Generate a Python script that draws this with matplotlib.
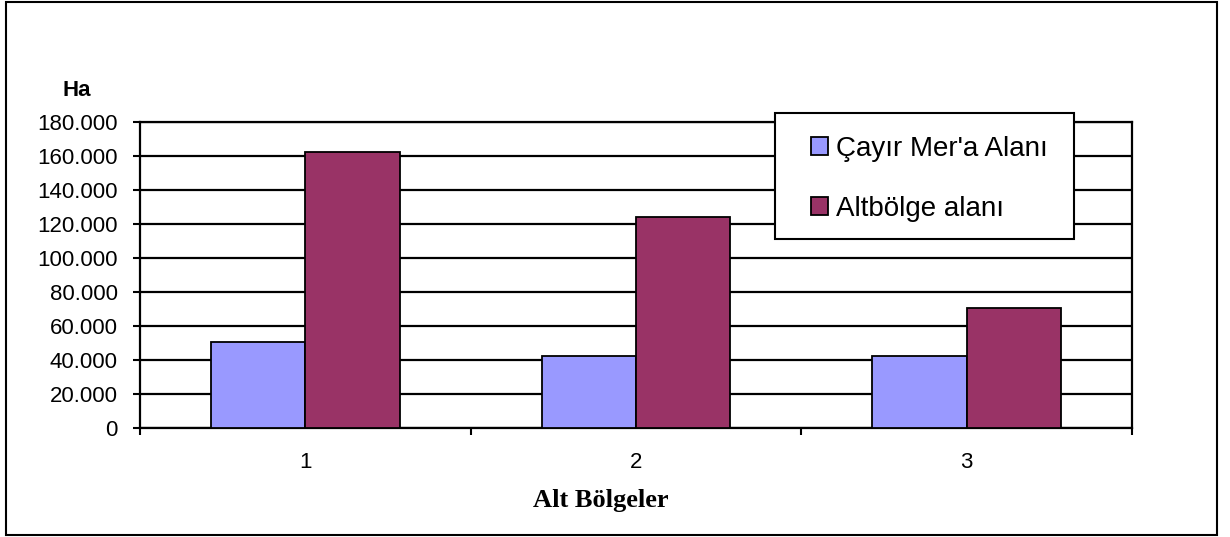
import numpy as np
import matplotlib
matplotlib.use("Agg")
from matplotlib import pyplot as plt
from matplotlib.patches import Rectangle

plt.rcParams['font.family'] = ['Liberation Sans', 'DejaVu Sans']

categories = ["1", "2", "3"]
cayir_mera = [50600, 42500, 42200]
altbolge = [162500, 124200, 70700]
series_names = ["Çayır Mer'a Alanı", "Altbölge alanı"]
y_ticks = [0, 20000, 40000, 60000, 80000, 100000, 120000, 140000, 160000, 180000]
y_labels = ["0", "20.000", "40.000", "60.000", "80.000", "100.000",
            "120.000", "140.000", "160.000", "180.000"]

W, H = 1230, 537
fig = plt.figure(figsize=(W / 100, H / 100), dpi=100)
ax = fig.add_axes([140 / W, 1 - 428.3 / H, (1132 - 140) / W, (428.3 - 121.7) / H])

x = np.arange(len(categories))
bw = 0.285
ax.bar(x - bw / 2, cayir_mera, bw, color="#9999FF", edgecolor="black",
       linewidth=1.3, label=series_names[0], zorder=3)
ax.bar(x + bw / 2, altbolge, bw, color="#993366", edgecolor="black",
       linewidth=1.3, label=series_names[1], zorder=3)

ax.set_xlim(-0.5, len(categories) - 0.5)
ax.set_ylim(0, 180000)
ax.set_yticks(y_ticks)
ax.set_yticklabels(y_labels, fontsize=16)
ax.set_xticks(x)
ax.set_xticklabels(categories, fontsize=16)
ax.set_xticks(np.arange(len(categories) + 1) - 0.5, minor=True)
ax.tick_params(axis="x", which="major", length=0, pad=17)
ax.tick_params(axis="x", which="minor", length=5, width=1.5, direction="out")
ax.tick_params(axis="y", length=5, width=1.5, direction="out", pad=11)
ax.yaxis.grid(True, color="black", linewidth=1.6, zorder=0)
for s in ax.spines.values():
    s.set_linewidth(1.6)
    s.set_color("black")

fig.text(77 / W, 1 - 90.7 / H, "Ha", fontsize=16, fontweight="bold",
         ha="center", va="center")
fig.text(601 / W, 1 - 501 / H, "Alt Bölgeler", fontsize=19, fontweight="bold",
         family="Liberation Serif", ha="center", va="center")

# legend entries without a frame, box drawn separately
leg = fig.legend(loc="upper left", bbox_to_anchor=(811 / W, 1 - 136 / H),
                 borderaxespad=0, borderpad=0, fontsize=20, frameon=False,
                 handlelength=0.6, handleheight=0.6, handletextpad=0.3,
                 labelspacing=1.22)
fig.patches.append(Rectangle((775 / W, 1 - 239 / H), (1074 - 775) / W, (239 - 113) / H,
                             transform=fig.transFigure, facecolor="white",
                             edgecolor="black", linewidth=1.5, zorder=4))
leg.set_zorder(5)

fig.patches.append(Rectangle((6 / W, 2 / H), (1217 - 6) / W, (535 - 2) / H,
                             transform=fig.transFigure, fill=False,
                             edgecolor="black", linewidth=1.5))

fig.savefig("out.png", dpi=100)
